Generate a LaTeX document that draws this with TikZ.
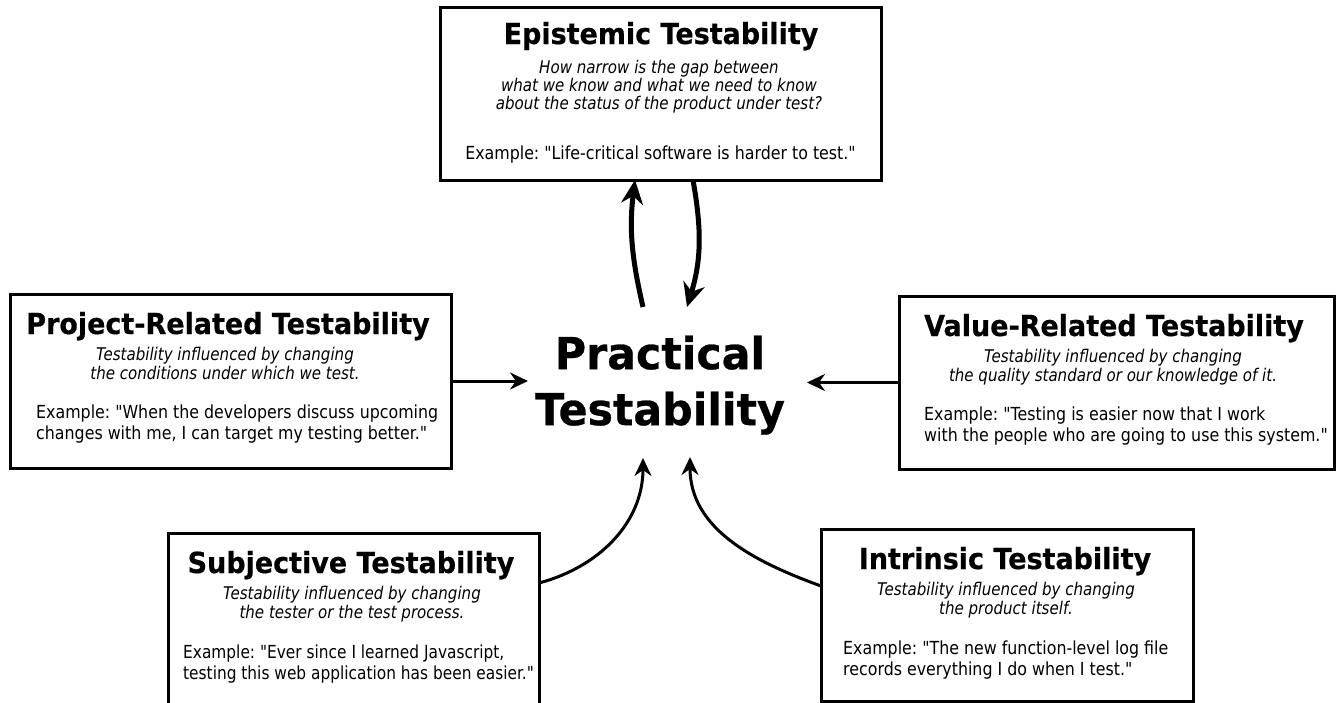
\documentclass[tikz,border=0pt]{standalone}
\usepackage{fontspec}
\setmainfont{DejaVu Sans}[Ligatures=TeXOff]
\newfontfamily\exfont{DejaVu Sans}[Ligatures=TeXOff,FakeStretch=0.88]
\newfontfamily\exfontn{DejaVu Sans}[Ligatures=TeXOff,FakeStretch=0.855]
\newfontfamily\dscfont{DejaVu Sans}[Ligatures=TeXOff,FakeStretch=0.86]
\newfontfamily\ttlfont{DejaVu Sans}[Ligatures=TeXOff,FakeStretch=0.93,FakeBold=0.5]
\newfontfamily\bigfont{DejaVu Sans}[Ligatures=TeXOff,FakeStretch=0.97,FakeBold=0.6]
\usetikzlibrary{arrows.meta,calc}
\begin{document}
\frenchspacing
\begin{tikzpicture}[x=1pt,y=-1pt,
  tbox/.style={draw=black, line width=3pt, rectangle, inner sep=0pt, outer sep=0pt},
  ttl/.style={font=\ttlfont\fontsize{29}{34}\selectfont\bfseries, anchor=base, inner sep=0pt},
  dsc/.style={font=\dscfont\fontsize{17.5}{19}\selectfont\itshape, align=center, anchor=north, inner sep=0pt},
  exm/.style={font=\exfont\fontsize{18}{21}\selectfont, align=left, anchor=north west, inner sep=0pt},
  conn/.style={line width=3pt, -{Stealth[length=18pt,width=17pt,inset=6pt]}},
  bigconn/.style={line width=5pt, -{Stealth[length=24pt,width=22pt,inset=8pt]}}]
\path[use as bounding box, fill=white] (0,0) rectangle (1342,702);

% Epistemic
\node[tbox, minimum width=441pt, minimum height=173pt] (epi) at (660.5,93.5) {};
\node[ttl] (epit) at (661,44) {Epistemic Testability};
\node[dsc, font=\dscfont\fontsize{17.5}{18}\selectfont\itshape] (epid) at (659,59.7) {How narrow is the gap between\\what we know and what we need to know\\about the status of the product under test?};
\node[font=\exfont\fontsize{18}{21}\selectfont, anchor=base, inner sep=0pt] (epix) at (660.5,159) {Example: "Life-critical software is harder to test."};

% Project-Related
\node[tbox, minimum width=441pt, minimum height=174pt] (proj) at (230.5,381) {};
\node[ttl] (projt) at (228,334) {Project-Related Testability};
\node[dsc] (projd) at (225,346.7) {Testability influenced by changing\\the conditions under which we test.};
\node[exm] (projx) at (36,404.3) {Example: "When the developers discuss upcoming\\changes with me, I can target my testing better."};

% Value-Related
\node[tbox, minimum width=435pt, minimum height=173pt] (val) at (1116.5,382.5) {};
\node[ttl] (valt) at (1114,336) {Value-Related Testability};
\node[dsc] (vald) at (1113,348.7) {Testability influenced by changing\\the quality standard or our knowledge of it.};
\node[exm] (valx) at (924,406.3) {Example: "Testing is easier now that I work\\with the people who are going to use this system."};

% Subjective
\node[tbox, minimum width=371pt, minimum height=174pt] (subj) at (353.5,620) {};
\node[ttl] (subjt) at (351,573) {Subjective Testability};
\node[dsc] (subjd) at (352,585.7) {Testability influenced by changing\\the tester or the test process.};
\node[exm, font=\exfontn\fontsize{18}{21}\selectfont] (subjx) at (183,644.3) {Example: "Ever since I learned Javascript,\\testing this web application has been easier."};

% Intrinsic
\node[tbox, minimum width=372pt, minimum height=172pt] (intr) at (1007,615) {};
\node[ttl] (intrt) at (1005,569) {Intrinsic Testability};
\node[dsc] (intrd) at (1006,581.7) {Testability influenced by changing\\the product itself.};
\node[exm] (intrx) at (843,640.3) {Example: "The new function-level log file\\records everything I do when I test."};

% Centre
\node[font=\bigfont\fontsize{44}{56}\selectfont\bfseries, align=center, anchor=north, inner sep=0pt] (pt) at (660,335.5) {Practical\\Testability};

% connector ends at the centre
\coordinate (pl) at (528,381);
\coordinate (pr) at (807,382.5);
\coordinate (ps) at (643,458);
\coordinate (pi) at (690,457);
\coordinate (pu) at (643,307);
\coordinate (pd) at (687,307);

\draw[conn] (proj.east) -- (pl);
\draw[conn] (val.west) -- (pr);
\draw[conn] ($(subj.north east)+(0,50)$) to[out=15,in=-90] (ps);
\draw[conn] ($(intr.north west)+(0,57)$) to[out=160,in=-90] (pi);
\draw[bigconn] (pu) to[out=103,in=-97] ($(epi.south)+(-25.5,0)$);
\draw[bigconn] ($(epi.south)+(32.5,0)$) to[out=-80,in=73] (pd);
\end{tikzpicture}
\end{document}
